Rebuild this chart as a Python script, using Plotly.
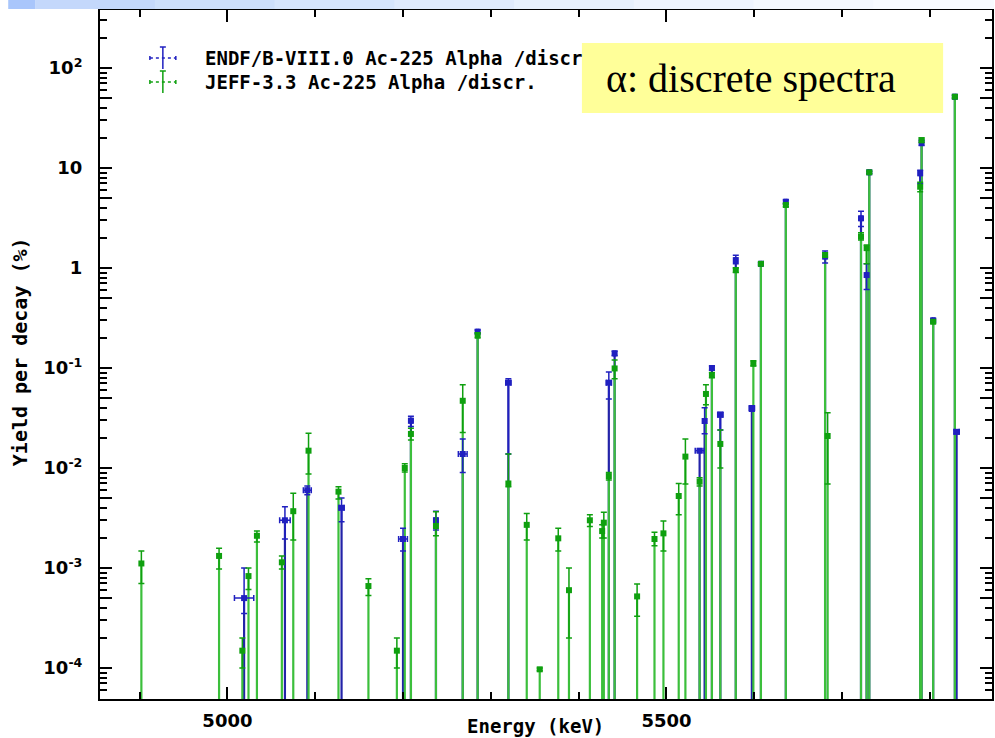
import plotly.graph_objects as go

# ---------------- data ----------------
# ENDF/B-VIII.0 Ac-225 alpha discrete lines
endf_energy = [5019, 5065.5, 5091, 5130, 5200, 5209, 5237.5, 5268, 5285, 5320,
               5434.4, 5441, 5537.8, 5543.5, 5551.8, 5561.4, 5579, 5597.3, 5607.6, 5636,
               5680.7, 5721.6, 5728, 5731, 5789, 5790.6, 5803.8, 5828.5, 5830.5]
endf_yield = [5.0e-4, 3.0e-3, 6.0e-3, 4.0e-3, 1.95e-3, 0.0297, 3.0e-3, 0.0138, 0.231, 0.0713,
              0.0713, 0.140, 0.0149, 0.0295, 0.100, 0.034, 1.2, 0.0395, 1.10, 4.6,
              1.30, 3.14, 0.85, 9.06, 8.85, 17.9, 0.30, 51.6, 0.023]
endf_upper = [1.0e-3, 4.1e-3, 6.6e-3, 5.0e-3, 2.5e-3, 0.033, 3.7e-3, 0.0195, 0.24, 0.078,
              0.091, 0.147, 0.0155, 0.040, 0.105, 0.036, 1.34, 0.042, 1.13, 4.8,
              1.48, 3.7, 1.1, 9.3, 9.5, 19.0, 0.31, 53.5, 0.024]
endf_lower = [3.5e-4, 1.95e-3, 5.4e-3, 2.9e-3, 1.48e-3, 0.026, 2.4e-3, 9.0e-3, 0.22, 0.0138,
              0.049, 0.133, 0.0143, 0.022, 0.095, 0.024, 1.1, 0.037, 1.07, 4.4,
              1.12, 2.6, 0.61, 8.8, 7.0, 16.8, 0.29, 49.8, 0.022]
endf_dE = [11, 6, 4.5, 3, 5, 2, 2, 5, 1, 3,
           3, 1, 5, 2, 2, 3, 1, 3, 1, 1,
           1, 1, 1, 1, 1, 1, 1, 1, 3]

# JEFF-3.3 Ac-225 alpha discrete lines
jeff_energy = [4902, 4990.5, 5017, 5024, 5033.6, 5062, 5075, 5092.4, 5126.5, 5160.6,
               5193, 5202, 5209, 5237.5, 5268, 5285, 5320, 5340.9, 5355.7, 5376.8,
               5389, 5412.8, 5426.8, 5428.7, 5434.4, 5441, 5466.6, 5486.4, 5496.6, 5514,
               5521.6, 5537.8, 5545, 5551.8, 5561.4, 5579, 5599, 5607.6, 5636, 5680.7,
               5683.6, 5721.6, 5728, 5731, 5789, 5790.6, 5803.8, 5828.5]
jeff_yield = [1.11e-3, 1.32e-3, 1.49e-4, 8.3e-4, 2.1e-3, 1.14e-3, 3.7e-3, 1.49e-2, 5.8e-3, 6.6e-4,
              1.49e-4, 1.0e-2, 2.19e-2, 2.63e-3, 4.7e-2, 0.214, 7.0e-3, 2.7e-3, 9.7e-5, 1.98e-3,
              6.0e-4, 3.0e-3, 2.34e-3, 2.84e-3, 8.3e-3, 0.099, 5.2e-4, 1.95e-3, 2.22e-3, 5.25e-3,
              1.3e-2, 7.3e-3, 0.055, 0.085, 0.0174, 0.955, 0.111, 1.10, 4.27, 1.35,
              0.0209, 2.06, 1.58, 9.06, 6.5, 19.0, 0.29, 51.6]
jeff_upper = [1.48e-3, 1.58e-3, 2.0e-4, 1.0e-3, 2.34e-3, 1.32e-3, 5.6e-3, 2.23e-2, 6.5e-3, 7.8e-4,
              2.0e-4, 1.1e-2, 2.5e-2, 3.65e-3, 6.8e-2, 0.225, 1.38e-2, 3.5e-3, 1.0e-4, 2.5e-3,
              1.0e-3, 3.4e-3, 2.7e-3, 3.6e-3, 9.0e-3, 0.12, 6.9e-4, 2.28e-3, 2.95e-3, 7.0e-3,
              1.95e-2, 8.0e-3, 0.068, 0.09, 0.024, 1.0, 0.118, 1.13, 4.4, 1.42,
              0.0357, 2.25, 1.7, 9.3, 7.2, 20.0, 0.30, 53]
jeff_lower = [0.70e-3, 0.98e-3, 1.0e-4, 6.1e-4, 1.82e-3, 0.98e-3, 1.9e-3, 8.7e-3, 4.9e-3, 5.3e-4,
              1.0e-4, 9.1e-3, 1.9e-2, 2.1e-3, 2.26e-2, 0.20, 6.5e-3, 1.9e-3, 9.4e-5, 1.48e-3,
              2.0e-4, 2.6e-3, 2.0e-3, 2.0e-3, 7.6e-3, 0.078, 3.3e-4, 1.67e-3, 1.48e-3, 3.4e-3,
              6.9e-3, 6.6e-3, 0.043, 0.08, 0.01, 0.9, 0.105, 1.07, 4.1, 1.28,
              6.9e-3, 1.9, 1.1, 8.8, 5.8, 18, 0.28, 50]

x_tick_major = [5000, 5500]
y_tick_vals = [1e-4, 1e-3, 1e-2, 1e-1, 1, 10, 100]
y_tick_text = ["10<sup>-4</sup>", "10<sup>-3</sup>", "10<sup>-2</sup>", "10<sup>-1</sup>", "1", "10", "10<sup>2</sup>"]
legend_names = ["ENDF/B-VIII.0 Ac-225 Alpha /discr", "JEFF-3.3 Ac-225 Alpha /discr."]

# ---------------- styling ----------------
W, H = 995, 738
ML, MR, MT, MB = 100, 1, 10, 39
BLUE = "#2323a8"
BLUE_M = "#2020c0"
GREEN = "#3cbf3c"
GREEN_M = "#0fa00f"
STEM_BASE = 1e-7   # stems start below the axis floor and are clipped by the plot area

MONO = "DejaVu Sans Mono"
SANS = "DejaVu Sans"


def stems(xs, ys):
    sx, sy = [], []
    for x, y in zip(xs, ys):
        sx += [x, x, None]
        sy += [STEM_BASE, y, None]
    return sx, sy


fig = go.Figure()

bx, by = stems(endf_energy, endf_yield)
gx, gy = stems(jeff_energy, jeff_yield)

fig.add_trace(go.Scatter(x=bx, y=by, mode="lines", line=dict(color=BLUE, width=2.2),
                         hoverinfo="skip", showlegend=False))
fig.add_trace(go.Scatter(x=gx, y=gy, mode="lines", line=dict(color=GREEN, width=2.2),
                         hoverinfo="skip", showlegend=False))

fig.add_trace(go.Scatter(
    x=endf_energy, y=endf_yield, mode="markers", name=legend_names[0],
    marker=dict(symbol="square", size=6, color=BLUE_M),
    error_y=dict(type="data", symmetric=False,
                 array=[u - v for u, v in zip(endf_upper, endf_yield)],
                 arrayminus=[v - l for v, l in zip(endf_yield, endf_lower)],
                 color=BLUE_M, thickness=1.5, width=3),
    error_x=dict(type="data", array=endf_dE, color=BLUE_M, thickness=1.5, width=3),
    showlegend=False))

fig.add_trace(go.Scatter(
    x=jeff_energy, y=jeff_yield, mode="markers", name=legend_names[1],
    marker=dict(symbol="square", size=6, color=GREEN_M),
    error_y=dict(type="data", symmetric=False,
                 array=[u - v for u, v in zip(jeff_upper, jeff_yield)],
                 arrayminus=[v - l for v, l in zip(jeff_yield, jeff_lower)],
                 color=GREEN_M, thickness=1.5, width=3),
    showlegend=False))

# invisible trace so that the overlay axis carrying the long "5 x 10^n" ticks is drawn
fig.add_trace(go.Scatter(x=[jeff_energy[0]], y=[jeff_yield[0]], yaxis="y2", mode="markers",
                         marker=dict(opacity=0), hoverinfo="skip", showlegend=False))

# axis ranges from pixel geometry (0.88 px/keV, 100 px/decade)
x_lo = 5000 + (ML - 227.7) / 0.88
x_hi = x_lo + (W - ML - MR) / 0.88
y_top = 2 + (68 - MT) / 100
y_bot = y_top - (H - MT - MB) / 100

minor_y = [m * 10.0 ** e for e in range(-5, 3) for m in (2, 3, 4, 6, 7, 8, 9)]
five_y = [5 * 10.0 ** e for e in range(-5, 3)]

fig.update_xaxes(
    range=[x_lo, x_hi], showgrid=False, zeroline=False,
    showline=True, linecolor="black", linewidth=2, mirror="ticks",
    ticks="inside", ticklen=12, tickwidth=1.5, tickcolor="black",
    tickvals=x_tick_major, ticktext=[str(v) for v in x_tick_major],
    tickfont=dict(family=SANS, size=18, color="black", weight="bold"),
    ticklabelstandoff=4,
    minor=dict(ticks="inside", ticklen=7, tickwidth=1.5, tickcolor="black", dtick=100, tick0=0,
               showgrid=False),
)
fig.update_layout(
    yaxis=dict(
        type="log", range=[y_bot, y_top], showgrid=False, zeroline=False,
        showline=True, linecolor="black", linewidth=2, mirror="ticks",
        ticks="inside", ticklen=12, tickwidth=1.5, tickcolor="black",
        tickvals=y_tick_vals, ticktext=y_tick_text,
        tickfont=dict(family=SANS, size=18, color="black", weight="bold"),
        ticklabelstandoff=12,
        minor=dict(ticks="inside", ticklen=7, tickwidth=1.5, tickcolor="black", tickvals=minor_y,
                   showgrid=False),
    ),
    yaxis2=dict(
        type="log", range=[y_bot, y_top], overlaying="y", side="left", matches="y",
        showgrid=False, zeroline=False, showline=False, mirror="ticks",
        ticks="inside", ticklen=12, tickwidth=1.5, tickcolor="black",
        tickvals=five_y, showticklabels=False,
    ),
)


def px(xp):
    return (xp - ML) / (W - ML - MR)


def py(yp):
    return (H - MB - yp) / (H - MT - MB)


shapes = []
# top slide band (approximate gradient)
band_cols = ["#c4d8fb", "#cddffb", "#d6e5fc", "#dfeafc", "#e7f0fd", "#eef4fe", "#f4f8fe", "#f8fbff"]
seg = (W - 35) / len(band_cols)
for i, c in enumerate(band_cols):
    shapes.append(dict(type="rect", xref="paper", yref="paper",
                       x0=px(35 + i * seg), x1=px(35 + (i + 1) * seg + 1), y0=py(9), y1=py(0),
                       fillcolor=c, line=dict(width=0), layer="above"))
shapes.append(dict(type="rect", xref="paper", yref="paper", x0=px(8), x1=px(35), y0=py(9), y1=py(0),
                   fillcolor="#a9c6fb", line=dict(width=0), layer="above"))

# legend symbols
for yc, col in ((58, BLUE_M), (82, GREEN_M)):
    shapes.append(dict(type="line", xref="paper", yref="paper", x0=px(163), x1=px(163),
                       y0=py(yc - 11), y1=py(yc + 11), line=dict(color=col, width=1.5)))
    shapes.append(dict(type="line", xref="paper", yref="paper", x0=px(150), x1=px(176),
                       y0=py(yc), y1=py(yc), line=dict(color=col, width=1.5, dash="dot")))
    for xe in (150, 176):
        shapes.append(dict(type="line", xref="paper", yref="paper", x0=px(xe), x1=px(xe),
                           y0=py(yc - 2), y1=py(yc + 2), line=dict(color=col, width=1.5)))
    shapes.append(dict(type="line", xref="paper", yref="paper", x0=px(160), x1=px(166),
                       y0=py(yc - 11), y1=py(yc - 11), line=dict(color=col, width=1.5)))

# yellow label box
shapes.append(dict(type="rect", xref="paper", yref="paper", x0=px(583), x1=px(945),
                   y0=py(113), y1=py(43), fillcolor="#ffff99", line=dict(width=0), layer="above"))

annotations = [
    dict(xref="paper", yref="paper", x=px(203), y=py(58), xanchor="left", yanchor="middle",
         text=legend_names[0], showarrow=False,
         font=dict(family=MONO, size=19, color="black", weight="bold")),
    dict(xref="paper", yref="paper", x=px(203), y=py(82), xanchor="left", yanchor="middle",
         text=legend_names[1], showarrow=False,
         font=dict(family=MONO, size=19, color="black", weight="bold")),
    dict(xref="paper", yref="paper", x=px(536), y=py(726), xanchor="center", yanchor="middle",
         text="Energy (keV)", showarrow=False,
         font=dict(family=MONO, size=19, color="black", weight="bold")),
    dict(xref="paper", yref="paper", x=px(20), y=py(352), xanchor="center", yanchor="middle",
         text="Yield per decay (%)", showarrow=False, textangle=-90,
         font=dict(family=MONO, size=20, color="black", weight="bold")),
    dict(xref="paper", yref="paper", x=px(605), y=py(79), xanchor="left", yanchor="middle",
         text="α: discrete spectra", showarrow=False,
         font=dict(family="Liberation Serif", size=40, color="black")),
]

fig.update_layout(
    width=W, height=H,
    margin=dict(l=ML, r=MR, t=MT, b=MB),
    paper_bgcolor="white", plot_bgcolor="white",
    showlegend=False,
    shapes=shapes, annotations=annotations,
)

fig.write_html("out.html")
